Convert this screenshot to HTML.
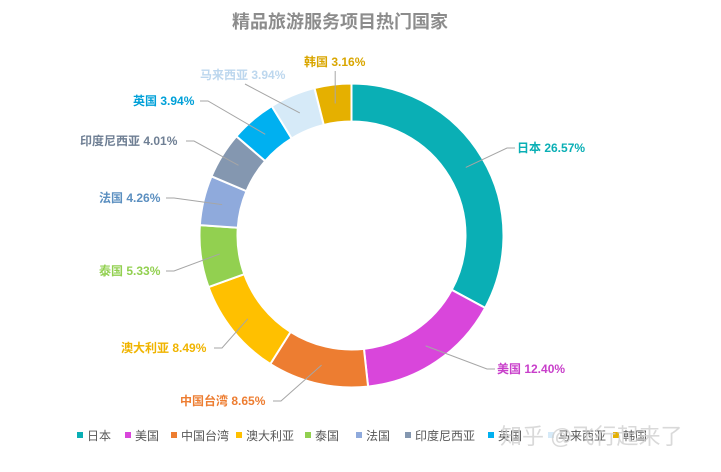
<!DOCTYPE html>
<html><head><meta charset="utf-8"><style>
body{margin:0;background:#fff;width:721px;height:467px;overflow:hidden;font-family:"Liberation Sans","Noto Sans CJK SC",sans-serif}
</style></head><body>
<svg width="721" height="467" xmlns="http://www.w3.org/2000/svg">
<text x="340" y="28" text-anchor="middle" font-size="18" font-weight="bold" fill="#8c8c8c">精品旅游服务项目热门国家</text>
<g id="slices"></g><g id="labels"></g><g id="legend"></g>
<text x="500" y="444" font-size="22" fill="#d0d0d0" opacity="0.8">知乎 @飞行起来了</text>
</svg>
<script>
const categories=["日本","美国","中国台湾","澳大利亚","泰国","法国","印度尼西亚","英国","马来西亚","韩国"];
const values=[26.57,12.40,8.65,8.49,5.33,4.26,4.01,3.94,3.94,3.16];
const valueLabels=["26.57%","12.40%","8.65%","8.49%","5.33%","4.26%","4.01%","3.94%","3.94%","3.16%"];
const colors=["#0aafb5","#d946db","#ed7d31","#ffc000","#92d050","#8faadc","#8497b0","#00b0f0","#d6eaf8","#e5b000"];
const labelColors=["#0aafb5","#c83fca","#ed7d31","#f0b400","#92d050","#5b8fc0","#6f7f94","#00a0d8","#bdd7ee","#d9a600"];
const labelPos=[[517,152],[497,373],[180,405],[121,352],[99,275],[99,202],[80,145],[133,105],[200,79],[304,66]];
const cx=351.5,cy=235.5,R=152,r=114,NS="http://www.w3.org/2000/svg";
const total=values.reduce((a,b)=>a+b,0);
function pt(a,rad){return [cx+rad*Math.sin(a),cy-rad*Math.cos(a)];}
const sg=document.getElementById('slices'),lg=document.getElementById('labels'),leg=document.getElementById('legend');
let a0=0;
values.forEach((v,i)=>{
 const a1=a0+v/total*2*Math.PI,large=(a1-a0)>Math.PI?1:0;
 const p1=pt(a0,R),p2=pt(a1,R),p3=pt(a1,r),p4=pt(a0,r);
 const p=document.createElementNS(NS,'path');
 p.setAttribute('d',`M${p1}A${R},${R} 0 ${large} 1 ${p2}L${p3}A${r},${r} 0 ${large} 0 ${p4}Z`);
 p.setAttribute('fill',colors[i]);p.setAttribute('stroke','#fff');p.setAttribute('stroke-width','2');
 
 
 sg.appendChild(p);
 const m=pt((a0+a1)/2,(R+r)/2),lp=labelPos[i];
 const tw=(categories[i].length*13+valueLabels[i].length*7+4);
 let pts;
 if(i===values.length-1){pts=`${m[0]},${lp[1]+5} ${m}`;}
 else if(i===values.length-2){pts=`${lp[0]+45},${lp[1]+5} ${m}`;}
 else{
  const ex=lp[0]<cx?lp[0]+tw+2:lp[0]-2, ey=lp[1]-4;
  pts=`${m} ${ex+(lp[0]<cx?8:-8)},${ey} ${ex},${ey}`;
 }
 const ln=document.createElementNS(NS,'polyline');
 ln.setAttribute('points',pts);
 ln.setAttribute('fill','none');ln.setAttribute('stroke','#a6a6a6');ln.setAttribute('stroke-width','1');
 
 
 lg.appendChild(ln);
 const t=document.createElementNS(NS,'text');
 t.setAttribute('x',lp[0]);t.setAttribute('y',lp[1]);t.setAttribute('font-size','12');t.setAttribute('font-weight','bold');t.setAttribute('fill',labelColors[i]);
 t.textContent=categories[i]+' '+valueLabels[i];
 
 
 lg.appendChild(t);
 a0=a1;
});
const legX=[77,125,171,236,305,356,405,488,548,613];
categories.forEach((c,i)=>{
 const g=document.createElementNS(NS,'g');
 
 
 const s=document.createElementNS(NS,'rect');
 s.setAttribute('x',legX[i]);s.setAttribute('y',432);s.setAttribute('width',6);s.setAttribute('height',6);s.setAttribute('fill',colors[i]);
 const t=document.createElementNS(NS,'text');
 t.setAttribute('x',legX[i]+10);t.setAttribute('y',440);t.setAttribute('font-size','12');t.setAttribute('fill','#595959');
 t.textContent=c;
 g.appendChild(s);g.appendChild(t);leg.appendChild(g);
});
</script>
</body></html>
